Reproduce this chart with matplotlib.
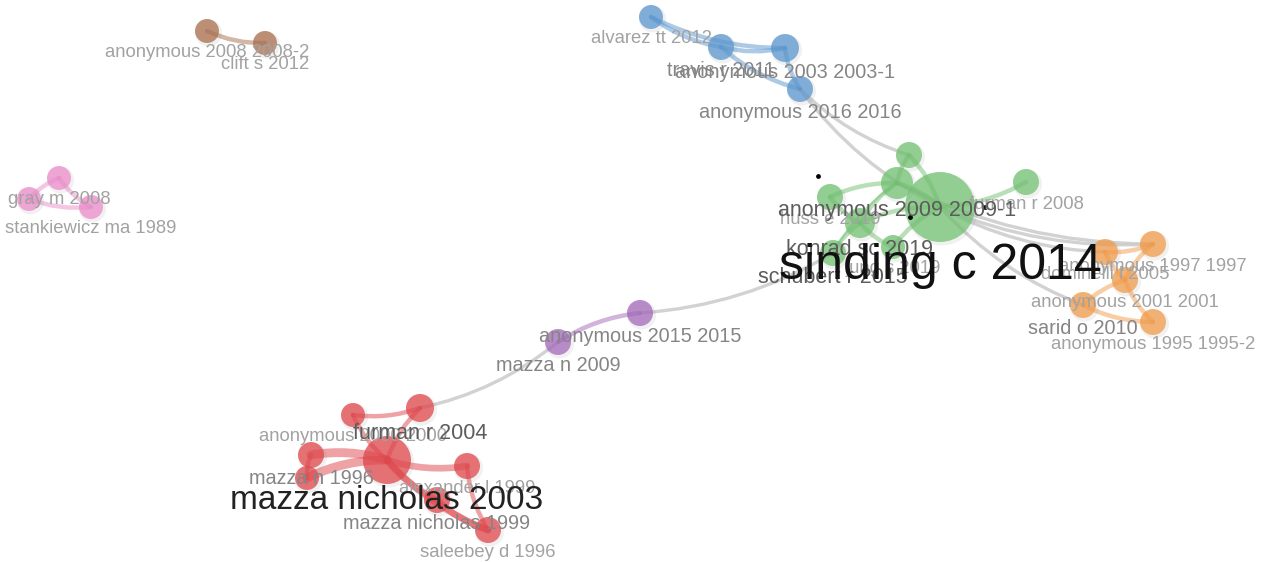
import numpy as np
import matplotlib.pyplot as plt
from matplotlib.path import Path
from matplotlib.patches import PathPatch, Circle

plt.rcParams['font.family'] = ['Liberation Sans', 'DejaVu Sans']

CLUSTER_COLORS = {
    "red": "#e0474c",
    "green": "#72c172",
    "blue": "#5b97cf",
    "orange": "#f39c4a",
    "purple": "#a468bb",
    "pink": "#ec8cca",
    "brown": "#a86f4d",
}

# node layout (map coordinates), cluster, size, label and label weight
NODE_X = [207, 265,
          59, 29, 91,
          651, 721, 785, 800,
          940, 909, 897, 830, 1026, 860, 833, 893,
          1105, 1153, 1125, 1083, 1153,
          640, 558,
          387, 353, 420, 311, 307, 467, 437, 488]
NODE_Y = [31, 43,
          178, 199, 207,
          17, 47, 48, 89,
          207, 155, 183, 197, 182, 223, 253, 247,
          252, 244, 280, 305, 322,
          313, 342,
          460, 415, 408, 455, 478, 466, 500, 530]
NODE_SIZE = [12, 12,
             12, 12, 12,
             12, 13, 14, 13,
             35, 13, 16, 13, 13, 15, 13, 12,
             13, 13, 13, 13, 13,
             13, 13,
             24, 12, 14, 13, 12, 13, 13, 13]
NODE_CLUSTER = ["brown"] * 2 + ["pink"] * 3 + ["blue"] * 4 + ["green"] * 8 + \
               ["orange"] * 5 + ["purple"] * 2 + ["red"] * 8
NODE_LABELS = ["anonymous 2008 2008-2", "clift s 2012",
               "gray m 2008", "", "stankiewicz ma 1989",
               "alvarez tt 2012", "travis r 2011", "anonymous 2003 2003-1", "anonymous 2016 2016",
               "sinding c 2014", "", "anonymous 2009 2009-1", "huss e 2019", "furman r 2008",
               "konrad sc 2019", "schubert r 2015", "jung s 2019",
               "dominelli l 2005", "anonymous 1997 1997", "anonymous 2001 2001",
               "sarid o 2010", "anonymous 1995 1995-2",
               "anonymous 2015 2015", "mazza n 2009",
               "mazza nicholas 2003", "anonymous 2000 2000", "furman r 2004", "mazza n 1996",
               "", "alexander l 1999", "mazza nicholas 1999", "saleebey d 1996"]
LABEL_WEIGHT = [1, 1,
                1, 1, 1,
                1, 2, 2, 2,
                5, 1, 3, 1, 1, 3, 3, 1,
                1, 1, 1, 2, 1,
                2, 2,
                4, 1, 3, 2, 1, 1, 2, 1]

# links within clusters (from, to, strength)
LINKS = [(0, 1, 2),
         (2, 3, 2), (2, 4, 2), (3, 4, 2),
         (5, 6, 2), (5, 7, 2), (6, 7, 2), (6, 8, 2), (7, 8, 2),
         (9, 10, 2), (9, 11, 2), (10, 11, 2), (11, 12, 2), (11, 14, 2), (9, 14, 2),
         (9, 13, 2), (14, 15, 2), (14, 16, 2), (9, 16, 2), (12, 14, 2), (11, 15, 1),
         (17, 18, 2), (17, 19, 2), (18, 19, 2), (19, 20, 2), (20, 21, 2), (19, 21, 2),
         (22, 23, 2),
         (25, 26, 2), (26, 24, 2), (24, 27, 4), (24, 28, 4), (27, 28, 2), (25, 24, 2),
         (24, 29, 3), (24, 30, 3), (24, 31, 3), (29, 31, 2), (30, 31, 3)]
# links between clusters
BRIDGES = [(26, 23), (22, 15), (8, 10), (8, 9), (9, 17), (9, 18), (9, 20), (11, 18)]

# small stray markers on the map
DOT_X = [818, 910, 985]
DOT_Y = [176, 217, 207]

LABEL_STYLE = {
    1: (13.3, "#a2a2a2"),
    2: (14.3, "#858585"),
    3: (15.5, "#5c5c5c"),
    4: (24, "#222222"),
    5: (36, "#111111"),
}


def curve(ax, p, q, color, lw, alpha, bend=0.12):
    p = np.array(p, float)
    q = np.array(q, float)
    d = q - p
    ctrl = (p + q) / 2 + bend * np.array([-d[1], d[0]])
    path = Path([p, ctrl, q], [Path.MOVETO, Path.CURVE3, Path.CURVE3])
    ax.add_patch(PathPatch(path, fc="none", ec=color, lw=lw, alpha=alpha,
                           capstyle="round", zorder=1))


fig = plt.figure(figsize=(12.62, 5.62), dpi=100)
ax = fig.add_axes([0, 0, 1, 1])
ax.set_xlim(0, 1262)
ax.set_ylim(562, 0)
ax.set_aspect("equal")
ax.axis("off")

pts = list(zip(NODE_X, NODE_Y))

for a, b in BRIDGES:
    curve(ax, pts[a], pts[b], "#cdcdcd", 2.4, 0.9)

for a, b, w in LINKS:
    curve(ax, pts[a], pts[b], CLUSTER_COLORS[NODE_CLUSTER[a]], 1.6 * w, 0.5)

for x, y, r, c in zip(NODE_X, NODE_Y, NODE_SIZE, NODE_CLUSTER):
    ax.add_patch(Circle((x + 1.5, y + 2), r + 1.5, fc="#777777", ec="none",
                        alpha=0.1, zorder=2))
    ax.add_patch(Circle((x, y), r, fc=CLUSTER_COLORS[c], ec="none",
                        alpha=0.75, zorder=3))

ax.scatter(DOT_X, DOT_Y, s=6, c="black", zorder=6)

for x, y, r, lab, w in zip(NODE_X, NODE_Y, NODE_SIZE, NODE_LABELS, LABEL_WEIGHT):
    if not lab:
        continue
    size, color = LABEL_STYLE[w]
    ax.text(x, y + r + 1, lab, ha="center", va="top", fontsize=size,
            color=color, zorder=5 + w)

fig.savefig("out.png", dpi=100)
plt.close()
